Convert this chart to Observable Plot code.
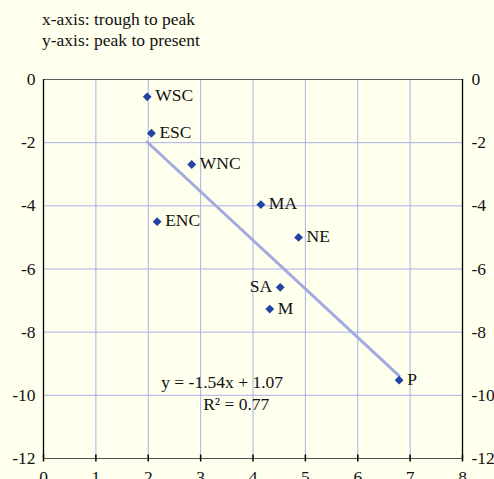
<!DOCTYPE html>
<html>
<head>
<meta charset="utf-8">
<script src="https://cdn.jsdelivr.net/npm/d3@7"></script>
<script src="https://cdn.jsdelivr.net/npm/@observablehq/plot@0.6"></script>
<style>
  html, body { margin: 0; padding: 0; background: #ffffee; }
  body { width: 494px; height: 479px; overflow: hidden; font-family: "Liberation Serif", "Times New Roman", serif; color: #111; }
  #title { height: 60px; box-sizing: border-box; padding: 9px 0 0 42px; font-size: 17.5px; line-height: 21px; }
  #chart svg { display: block; }
</style>
</head>
<body>
<div id="title"><div>x-axis: trough to peak</div><div>y-axis: peak to present</div></div>
<div id="chart"></div>
<script>
// Regions (census divisions)
const regions = ["WSC", "ESC", "WNC", "MA", "ENC", "NE", "SA", "M", "P"];
// x: trough to peak
const troughToPeak = [1.98, 2.06, 2.83, 4.15, 2.17, 4.87, 4.52, 4.32, 6.79];
// y: peak to present
const peakToPresent = [-0.55, -1.70, -2.69, -3.96, -4.50, -5.00, -6.58, -7.27, -9.52];
// label side
const labelSide = ["right", "right", "right", "right", "right", "right", "left", "right", "right"];

// Axis ticks
const xTicks = [0, 1, 2, 3, 4, 5, 6, 7, 8];
const yTicks = [0, -2, -4, -6, -8, -10, -12];

// Trend line
const trendSlope = -1.54;
const trendIntercept = 1.07;
const rSquared = 0.77;
const annotationText = [
  `y = ${trendSlope}x + ${trendIntercept}`,
  `R\u00B2 = ${rSquared}`
];
const annotationX = [3.41, 3.68];
const annotationY = [-9.59, -10.3];

const points = regions.map((r, i) => ({region: r, x: troughToPeak[i], y: peakToPresent[i], side: labelSide[i]}));
const fitRange = d3.extent(troughToPeak);
const annotations = annotationText.map((t, i) => ({text: t, x: annotationX[i], y: annotationY[i]}));

const gridColor = "#a9b0e8";
const fmt = d => String(d);

const chart = Plot.plot({
  width: 494,
  height: 419,
  marginTop: 19,
  marginBottom: 21,
  marginLeft: 43,
  marginRight: 32,
  style: { background: "transparent", fontFamily: "'Liberation Serif', 'Times New Roman', serif", fontSize: "17.5px", color: "#111" },
  x: { domain: [0, 8], axis: null },
  y: { domain: [-12, 0], axis: null },
  marks: [
    Plot.gridX(xTicks.slice(1, -1), { stroke: gridColor, strokeOpacity: 1 }),
    Plot.gridY(yTicks.slice(1, -1), { stroke: gridColor, strokeOpacity: 1 }),
    Plot.ruleY([0], { stroke: "#606060", strokeWidth: 1.2 }),
    Plot.ruleY([-12], { stroke: "#505050", strokeWidth: 1.2 }),
    Plot.ruleX([0, 8], { stroke: "#000", strokeWidth: 1.3 }),
    Plot.axisY(yTicks, { anchor: "left", label: null, tickSize: 0, tickPadding: 8, tickFormat: fmt, fontSize: "17.5px" }),
    Plot.axisY(yTicks, { anchor: "right", label: null, tickSize: 0, tickPadding: 9, tickFormat: fmt, fontSize: "17.5px" }),
    Plot.axisX(xTicks, { anchor: "bottom", label: null, tickSize: 7, insetBottom: 3.5, fill: "none", stroke: "#000", strokeWidth: 1.5 }),
    Plot.axisX(xTicks, { anchor: "bottom", label: null, tickSize: 0, tickPadding: 12, tickFormat: fmt, fontSize: "17.5px" }),
    Plot.line(fitRange, { x: d => d, y: d => trendSlope * d + trendIntercept, stroke: "#a3aae0", strokeWidth: 3 }),
    Plot.dot(points, { x: "x", y: "y", symbol: "diamond2", r: 4, fill: "#2343a3", stroke: "none" }),
    Plot.text(points.filter(d => d.side === "right"), { x: "x", y: "y", text: "region", textAnchor: "start", dx: 8, dy: -1, fill: "#111", fontSize: "17.5px" }),
    Plot.text(points.filter(d => d.side === "left"), { x: "x", y: "y", text: "region", textAnchor: "end", dx: -8, dy: -1, fill: "#111", fontSize: "17.5px" }),
    Plot.text(annotations, { x: "x", y: "y", text: "text", textAnchor: "middle", fill: "#111", fontSize: "17.5px" })
  ]
});
document.getElementById("chart").appendChild(chart);
</script>
</body>
</html>
